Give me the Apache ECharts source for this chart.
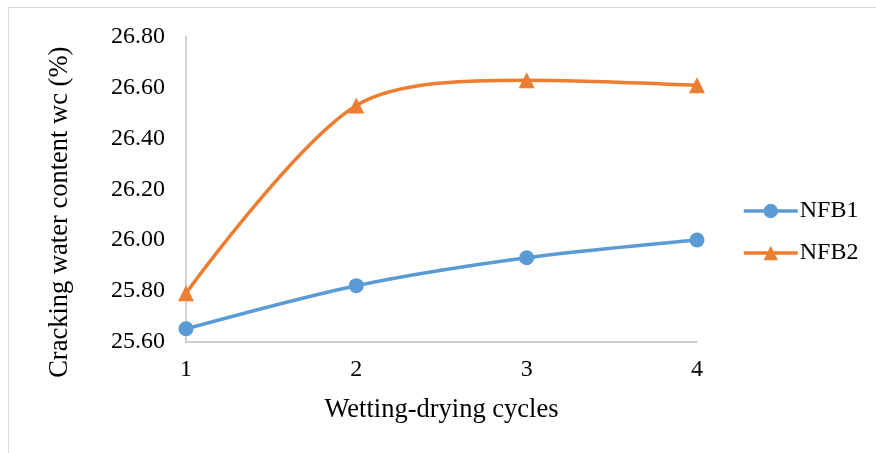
<!DOCTYPE html>
<html><head><meta charset="utf-8">
<script src="https://cdn.jsdelivr.net/npm/echarts@6/dist/echarts.min.js"></script>
<style>html,body{margin:0;padding:0;background:#fff}#c{width:876px;height:453px}</style>
</head><body><div id="c"></div>
<script>
const categories = ['1', '2', '3', '4'];
const nfb1 = [25.65, 25.82, 25.93, 26.00];
const nfb2 = [25.79, 26.53, 26.63, 26.61];
const seriesNames = ['NFB1', 'NFB2'];
const yTitle = 'Cracking water content wc (%)';
const xTitle = 'Wetting-drying cycles';

const font = 'Liberation Serif';
const chart = echarts.init(document.getElementById('c'), null, {renderer: 'canvas'});
chart.setOption({
  backgroundColor: '#fff',
  animation: false,
  graphic: [{
    type: 'rect', shape: {x: 8.5, y: 7.5, width: 900, height: 500},
    style: {fill: 'none', stroke: '#D9D9D9', lineWidth: 1}, silent: true
  }],
  grid: {left: 186, right: 179, top: 37, bottom: 111.5, containLabel: false},
  legend: {
    orient: 'vertical', left: 737, top: 194, itemGap: 18,
    itemWidth: 54, itemHeight: 18,
    lineStyle: {width: 3.5},
    textStyle: {fontFamily: font, fontSize: 24, color: '#000', padding: [0,0,0,-3]},
    data: seriesNames
  },
  xAxis: {
    type: 'category', data: categories, boundaryGap: false,
    axisLine: {lineStyle: {color: '#BFBFBF', width: 1.5}},
    axisTick: {show: false},
    axisLabel: {fontFamily: font, fontSize: 24, color: '#000', margin: 16},
    name: xTitle, nameLocation: 'middle', nameGap: 55,
    nameTextStyle: {fontFamily: font, fontSize: 26.5, color: '#000'}
  },
  yAxis: {
    type: 'value', min: 25.6, max: 26.8, interval: 0.2,
    axisLine: {show: true, lineStyle: {color: '#BFBFBF', width: 1.5}},
    axisTick: {show: false},
    splitLine: {show: false},
    axisLabel: {fontFamily: font, fontSize: 24, color: '#000', margin: 21,
      formatter: v => v.toFixed(2)},
    name: yTitle, nameLocation: 'middle', nameGap: 112, nameRotate: 90,
    nameTextStyle: {fontFamily: font, fontSize: 26.5, color: '#000', padding: [0, 46, 0, 0]}
  },
  series: [{
    name: seriesNames[0], type: 'line', data: nfb1, smooth: 0.3,
    symbol: 'circle', symbolSize: 15,
    lineStyle: {color: '#5B9BD5', width: 3.5},
    itemStyle: {color: '#5B9BD5'}
  }, {
    name: seriesNames[1], type: 'line', data: nfb2, smooth: 0.3,
    symbol: 'triangle', symbolSize: 16,
    lineStyle: {color: '#ED7D31', width: 3.5},
    itemStyle: {color: '#ED7D31'}
  }]
});
</script></body></html>
